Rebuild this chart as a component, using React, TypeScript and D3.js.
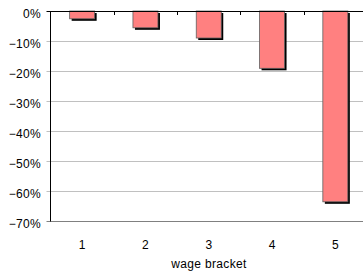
import React from "react";
import * as d3 from "d3";

const categories = ["1", "2", "3", "4", "5"];
const values = [-0.026, -0.056, -0.09, -0.191, -0.636];
const yTicks = [0, -0.1, -0.2, -0.3, -0.4, -0.5, -0.6, -0.7];
const xTitle = "wage bracket";

export default function App() {
  const W = 363, H = 277;
  const left = 50.5, right = 367, top = 11, bottom = 221;
  const x = d3.scaleBand<string>().domain(categories).range([left, right]).paddingInner(0.605).paddingOuter(0.3025);
  const step = x.step();
  const y = d3.scaleLinear().domain([-0.7, 0]).range([bottom, top]);
  const fmt = d3.format(".0%");
  const font = "Liberation Sans, Arial, sans-serif";
  return (
    <svg width={W} height={H} style={{ position: "absolute", left: 0, top: 0 }} fontFamily={font}>
      <rect x={0} y={0} width={W} height={H} fill="#fff" />
      {yTicks.map((t) => (
        <g key={t}>
          {t !== 0 && t !== -0.7 && (
            <line x1={left - 4} x2={W} y1={Math.round(y(t)) + 0.5} y2={Math.round(y(t)) + 0.5} stroke="#c0c0c0" strokeWidth={1} />
          )}
          {t === -0.7 && (
            <line x1={left - 4} x2={W} y1={Math.round(y(t)) + 0.5} y2={Math.round(y(t)) + 0.5} stroke="#808080" strokeWidth={1} />
          )}
          {t === 0 && <line x1={left - 4} x2={left} y1={y(t) + 0.5} y2={y(t) + 0.5} stroke="#000" />}
          <text x={41} y={y(t) + 6.8} textAnchor="end" fontSize={12} letterSpacing={0.3} fill="#000">
            {fmt(t)}
          </text>
        </g>
      ))}
      {categories.map((c, i) => (
        <g key={c}>
          <rect x={x(c)! + 2} y={y(0) + 2} width={x.bandwidth()} height={y(values[i]) - y(0)} fill="#000" />
          <rect x={x(c)!} y={y(0)} width={x.bandwidth()} height={y(values[i]) - y(0)} fill="#ff8080" stroke="#606060" strokeWidth={0.8} />
          <text x={x(c)! + x.bandwidth() / 2} y={248.5} textAnchor="middle" fontSize={12} fill="#000">
            {c}
          </text>
        </g>
      ))}
      <line x1={left} x2={W} y1={y(0) + 0.5} y2={y(0) + 0.5} stroke="#000" strokeWidth={1} />
      {d3.range(1, 5).map((k) => (
        <line key={k} x1={Math.round(left + k * step) + 0.5} x2={Math.round(left + k * step) + 0.5} y1={y(0)} y2={y(0) + 4} stroke="#000" />
      ))}
      <line x1={left} x2={left} y1={top} y2={bottom + 0.5} stroke="#000" strokeWidth={1} />
      <text x={209} y={268} textAnchor="middle" fontSize={12} letterSpacing={0.35} fill="#000">
        {xTitle}
      </text>
    </svg>
  );
}
